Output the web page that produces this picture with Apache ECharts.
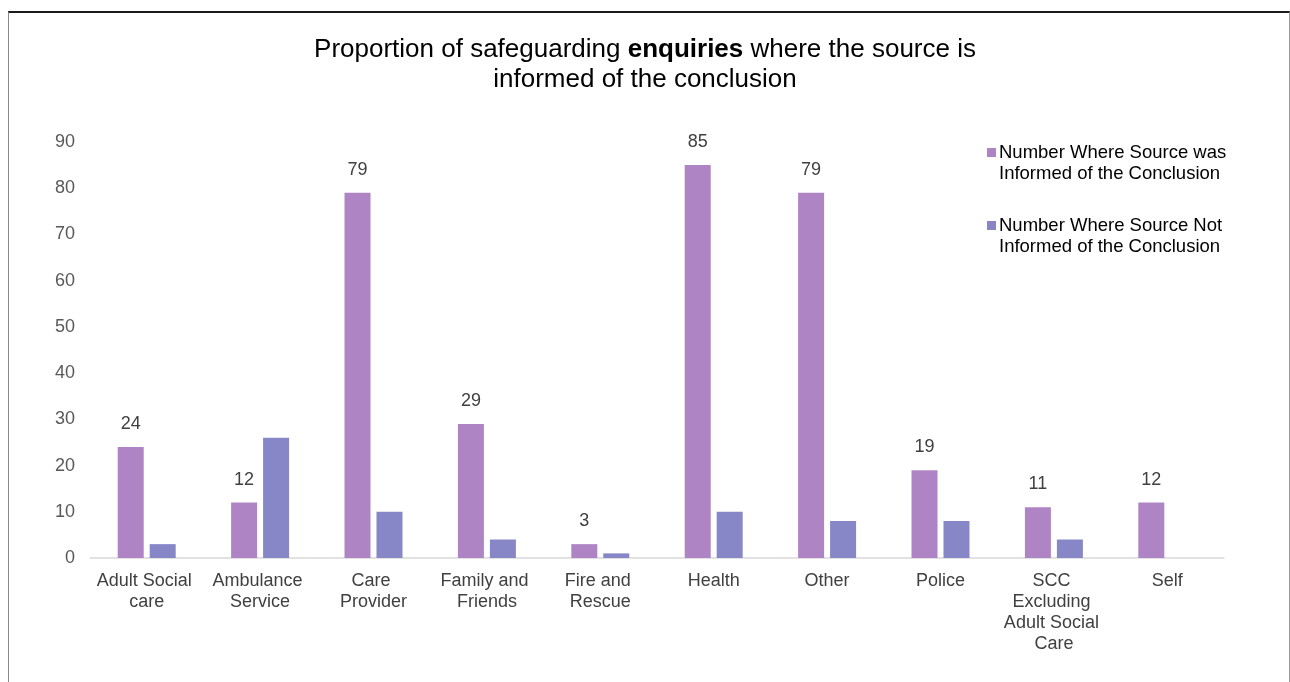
<!DOCTYPE html>
<html lang="en">
<head>
    <meta charset="UTF-8">
    <title>Safeguarding enquiries</title>
    <script src="https://cdn.jsdelivr.net/npm/echarts@6/dist/echarts.min.js"></script>
    <style>
        html, body { margin: 0; padding: 0; background: #fff; }
        #frame {
            position: absolute; left: 8px; top: 11px; width: 1280px; height: 700px;
            border-top: 2px solid #1a1a1a; border-left: 1px solid #8a8a8a; border-right: 1px solid #9a9a9a;
        }
        #container { position: absolute; left: 0; top: 0; width: 1290px; height: 682px; }
    </style>
</head>
<body>
<div id="frame"></div>
<div id="container"></div>

<script>
    var categories = ['Adult Social care', 'Ambulance Service', 'Care Provider', 'Family and Friends',
        'Fire and Rescue', 'Health', 'Other', 'Police', 'SCC Excluding Adult Social Care', 'Self'];
    var informed = [24, 12, 79, 29, 3, 85, 79, 19, 11, 12];
    var notInformed = [3, 26, 10, 4, 1, 10, 8, 8, 4, 0];
    var seriesNames = ['Number Where Source was\nInformed of the Conclusion',
        'Number Where Source Not\nInformed of the Conclusion'];

    var myChart = echarts.init(document.getElementById('container'));
    var font = 'Liberation Sans, Arial, sans-serif';

    var option = {
        textStyle: { fontFamily: font },
        title: {
            text: '{n|Proportion of safeguarding }{b|enquiries}{n| where the source is}\n{n|informed of the conclusion}',
            left: 'center',
            top: 30,
            textStyle: {
                fontWeight: 'normal',
                rich: {
                    n: { fontSize: 26, color: '#000', fontWeight: 'normal', fontFamily: font, lineHeight: 30 },
                    b: { fontSize: 26, color: '#000', fontWeight: 'bold', fontFamily: font, lineHeight: 30 }
                }
            }
        },
        legend: {
            orient: 'vertical',
            left: 982,
            top: 137,
            itemWidth: 9,
            itemHeight: 30,
            itemGap: 31,
            // square drawn beside the first text line
            icon: 'path://M0,0L9,0L9,9L0,9Z M0,30L0.01,30',
            textStyle: { fontSize: 18.5, color: '#000', lineHeight: 21, padding: [0, 0, 0, -2] },
            data: seriesNames
        },
        grid: { left: 90, right: 66, top: 142, bottom: 124, containLabel: false },
        xAxis: {
            type: 'category',
            data: categories,
            axisLine: { lineStyle: { color: '#d9d9d9', width: 1.5 } },
            axisTick: { show: false },
            axisLabel: {
                interval: 0,
                fontSize: 18,
                color: '#404040',
                lineHeight: 21,
                margin: 13,
                width: 102,
                overflow: 'break'
            }
        },
        yAxis: {
            type: 'value',
            min: 0,
            max: 90,
            interval: 10,
            axisLine: { show: false },
            axisTick: { show: false },
            splitLine: { show: false },
            axisLabel: { fontSize: 18, color: '#595959', margin: 15 }
        },
        series: [
            {
                name: seriesNames[0],
                type: 'bar',
                data: informed,
                barWidth: 26,
                barGap: '23%',
                itemStyle: { color: '#af84c4' },
                label: { show: true, position: 'top', distance: 14, fontSize: 18, color: '#404040' }
            },
            {
                name: seriesNames[1],
                type: 'bar',
                data: notInformed,
                barWidth: 26,
                itemStyle: { color: '#8786c7' }
            }
        ]
    };
    myChart.setOption(option);
</script>
</body>
</html>
